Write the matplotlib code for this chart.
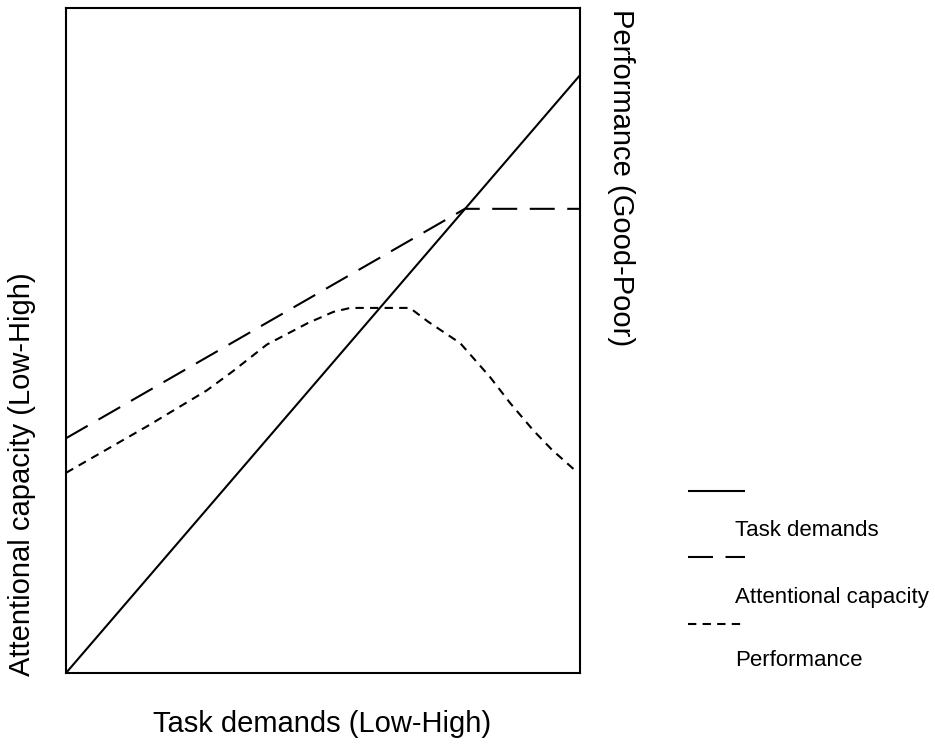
import matplotlib.pyplot as plt
from matplotlib.lines import Line2D

plt.rcParams['font.family'] = ['Liberation Sans', 'DejaVu Sans']

# task demands (solid)
task_x = [0, 100]
task_y = [0, 89.9]
# attentional capacity (long dash)
cap_x = [0, 77.6, 100]
cap_y = [35.3, 69.8, 69.8]
# performance (short dash)
perf_x = [0, 16, 27.4, 32.5, 39.1, 47, 52, 55.3, 66.9, 70.5, 76.7, 82.5, 86.4, 90.9, 94.5, 99.0]
perf_y = [30.1, 37.2, 42.5, 45.4, 49.4, 52.6, 54.3, 54.9, 54.9, 52.8, 49.6, 44.5, 40.6, 36.5, 33.6, 30.5]

labels = ["Task demands", "Attentional capacity", "Performance"]
styles = [(0, ()), (0, (12, 6)), (0, (4, 3))]

fig = plt.figure(figsize=(9.35, 7.46), dpi=100)
ax = fig.add_axes([66/935, 73/746, 514/935, 665/746])

lw = 1.5
ax.plot(task_x, task_y, color='black', lw=lw, linestyle=styles[0])
ax.plot(cap_x, cap_y, color='black', lw=lw, linestyle=styles[1])
ax.plot(perf_x, perf_y, color='black', lw=lw, linestyle=styles[2])

ax.set_xlim(0, 100)
ax.set_ylim(0, 100)
ax.set_xticks([])
ax.set_yticks([])
for s in ax.spines.values():
    s.set_linewidth(1.5)

fig.text(322/935, 1 - 724/746, "Task demands (Low-High)", ha='center', va='center', fontsize=21)
fig.text(22/935, 1 - 474/746, "Attentional capacity (Low-High)", ha='center', va='center',
         rotation=90, fontsize=21)
fig.text(621/935, 1 - 178/746, "Performance (Good-Poor)", ha='center', va='center',
         rotation=-90, fontsize=21)

# legend, drawn by hand: line on one row, label underneath
line_y = [491, 557, 624]
text_y = [530, 597, 660]
for lab, st, ly, ty in zip(labels, styles, line_y, text_y):
    fig.add_artist(Line2D([688/935, 745/935], [1 - ly/746, 1 - ly/746],
                          color='black', lw=lw, linestyle=st, transform=fig.transFigure))
    fig.text(735/935, 1 - ty/746, lab, ha='left', va='center', fontsize=16)

fig.savefig("out.png", dpi=100)
